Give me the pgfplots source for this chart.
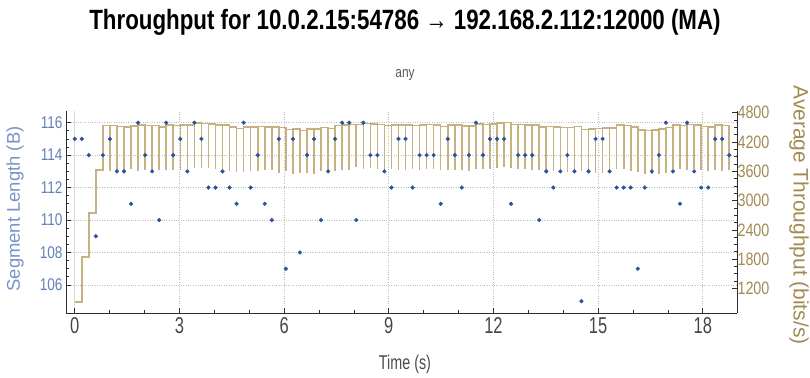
\documentclass[border=0pt]{standalone}
\usepackage{pgfplots}
\pgfplotsset{compat=1.18}
\usepackage{pgfplotstable}
\usepackage{fontspec}
\setmainfont{Liberation Sans}
\newfontfamily\condfont[FakeStretch=0.8]{Liberation Sans}
\newfontfamily\xtickfont[FakeStretch=0.72]{Liberation Sans}
\newfontfamily\titlefont[FakeStretch=0.8]{Liberation Sans}

\definecolor{gold}{RGB}{198,178,128}
\definecolor{goldtext}{RGB}{163,138,82}
\definecolor{dotblue}{RGB}{42,82,158}
\definecolor{bluetext}{RGB}{95,128,186}
\definecolor{bluelabel}{RGB}{118,148,200}
\definecolor{axisgray}{RGB}{45,45,45}

\pgfplotstableread{
t len H d
0.000 115 920 920
0.202 115 1840 920
0.403 114 2752 912
0.605 109 3624 872
0.807 114 4536 912
1.009 115 4536 920
1.210 113 4520 904
1.412 113 4512 904
1.614 111 4528 888
1.815 116 4544 928
2.017 114 4536 912
2.219 113 4536 904
2.420 110 4512 880
2.622 116 4552 928
2.824 114 4536 912
3.026 115 4544 920
3.227 113 4544 904
3.429 116 4592 928
3.631 115 4584 920
3.832 112 4568 896
4.034 112 4544 896
4.236 113 4544 904
4.437 112 4512 896
4.639 111 4480 888
4.841 116 4512 928
5.043 112 4512 896
5.244 114 4520 912
5.446 111 4512 888
5.648 110 4504 880
5.849 115 4496 920
6.051 107 4456 856
6.253 115 4464 920
6.454 108 4440 864
6.656 114 4472 912
6.858 115 4472 920
7.060 110 4496 880
7.261 113 4480 904
7.463 115 4536 920
7.665 116 4552 928
7.866 116 4560 928
8.068 110 4560 880
8.270 116 4584 928
8.471 114 4576 912
8.673 114 4560 912
8.875 113 4536 904
9.077 112 4552 896
9.278 115 4544 920
9.480 115 4552 920
9.682 112 4536 896
9.883 114 4544 912
10.085 114 4560 912
10.287 114 4552 912
10.488 111 4520 888
10.690 115 4544 920
10.892 114 4544 912
11.094 112 4528 896
11.295 114 4528 912
11.497 116 4568 928
11.699 114 4560 912
11.900 115 4568 920
12.102 115 4592 920
12.304 115 4600 920
12.505 111 4560 888
12.707 114 4560 912
12.909 114 4552 912
13.111 114 4544 912
13.312 110 4504 880
13.514 113 4520 904
13.716 112 4504 896
13.917 113 4496 904
14.119 114 4496 912
14.321 113 4520 904
14.522 105 4456 840
14.724 113 4464 904
14.926 115 4480 920
15.128 115 4488 920
15.329 113 4488 904
15.531 112 4544 896
15.733 112 4536 896
15.934 112 4512 896
16.136 107 4448 856
16.338 112 4440 896
16.539 113 4448 904
16.741 114 4464 912
16.943 116 4496 928
17.145 113 4544 904
17.346 111 4536 888
17.548 116 4560 928
17.750 113 4552 904
17.951 112 4520 896
18.153 112 4512 896
18.355 115 4544 920
18.556 115 4536 920
18.758 114 4544 912
}\datatable

\begin{document}
\begin{tikzpicture}[x=1bp,y=1bp]
\useasboundingbox (0,0) rectangle (810,377);

% title and subtitle
\node[font={\titlefont\bfseries\fontsize{28}{28}\selectfont}, text=black] at (405,355) {Throughput for 10.0.2.15:54786 → 192.168.2.112:12000 (MA)};
\node[font={\condfont\fontsize{15}{15}\selectfont}, text=black!65] at (405,302) {any};
\node[font={\xtickfont\fontsize{20}{20}\selectfont}, text=black!70] at (405,13) {Time (s)};
\node[font={\fontsize{18.5}{18.5}\selectfont}, text=bluelabel, rotate=90] at (15,168) {Segment Length (B)};
\node[font={\fontsize{21}{21}\selectfont}, text=goldtext, rotate=-90] at (799,162) {Average Throughput (bits/s)};

% left axis with grid
\begin{axis}[
  at={(66bp,64bp)}, anchor=south west,
  width=671bp, height=202bp, scale only axis,
  xmin=-0.25, xmax=18.98, ymin=104.27, ymax=116.72,
  axis x line*=bottom, axis y line*=left,
  axis line style={axisgray, line width=0.8pt},
  xtick={0,3,...,18}, ytick={106,108,...,116},
  minor x tick num=2, minor y tick num=3,
  tick align=inside,
  major tick length=5bp, minor tick length=3bp,
  tick style={axisgray, line width=0.7pt},
  grid=major,
  major grid style={dotted, black!25, line width=0.7pt},
  extra x ticks={0}, extra x tick labels={},
  extra x tick style={grid=major, major grid style={solid, black!15, line width=1pt}},
  /pgf/number format/assume math mode=true,
  xticklabel style={font={\xtickfont\fontsize{23}{23}\selectfont}, text=black!72, yshift=-1bp},
  yticklabel style={font={\condfont\fontsize{17}{17}\selectfont}, text=bluetext},
]
\addplot[draw=none, mark=none, forget plot] coordinates {(0,110)};
\end{axis}

% right axis: throughput
\begin{axis}[
  at={(66bp,64bp)}, anchor=south west,
  width=671bp, height=202bp, scale only axis,
  xmin=-0.25, xmax=18.98, ymin=696, ymax=4837,
  axis x line=none, axis y line*=right,
  axis line style={axisgray, line width=0.8pt},
  ytick={1200,1800,...,4800}, minor y tick num=3,
  tick align=inside,
  major tick length=5bp, minor tick length=3bp,
  tick style={axisgray, line width=0.7pt},
  /pgf/number format/assume math mode=true,
  /pgf/number format/set thousands separator={},
  yticklabel style={font={\condfont\fontsize{18}{18}\selectfont}, text=goldtext, xshift=-3bp},
]
\addplot[const plot mark left, gold, line width=1.6bp, mark=none] table[x=t, y=H] {\datatable};
\addplot[draw=none, mark=none, forget plot,
  skip coords between index={0}{5},
  error bars/.cd, y dir=minus, y explicit, error mark=none,
  error bar style={solid, draw=gold, line width=1.6bp}]
  table[x=t, y=H, y error=d] {\datatable};
\end{axis}

% dots on top
\begin{axis}[
  at={(66bp,64bp)}, anchor=south west,
  width=671bp, height=202bp, scale only axis,
  xmin=-0.25, xmax=18.98, ymin=104.27, ymax=116.72,
  hide axis, clip=false,
]
\addplot[only marks, mark=*, mark size=1.9bp, dotblue, mark options={draw=dotblue, fill=dotblue}] table[x=t, y=len] {\datatable};
\end{axis}
\end{tikzpicture}
\end{document}
